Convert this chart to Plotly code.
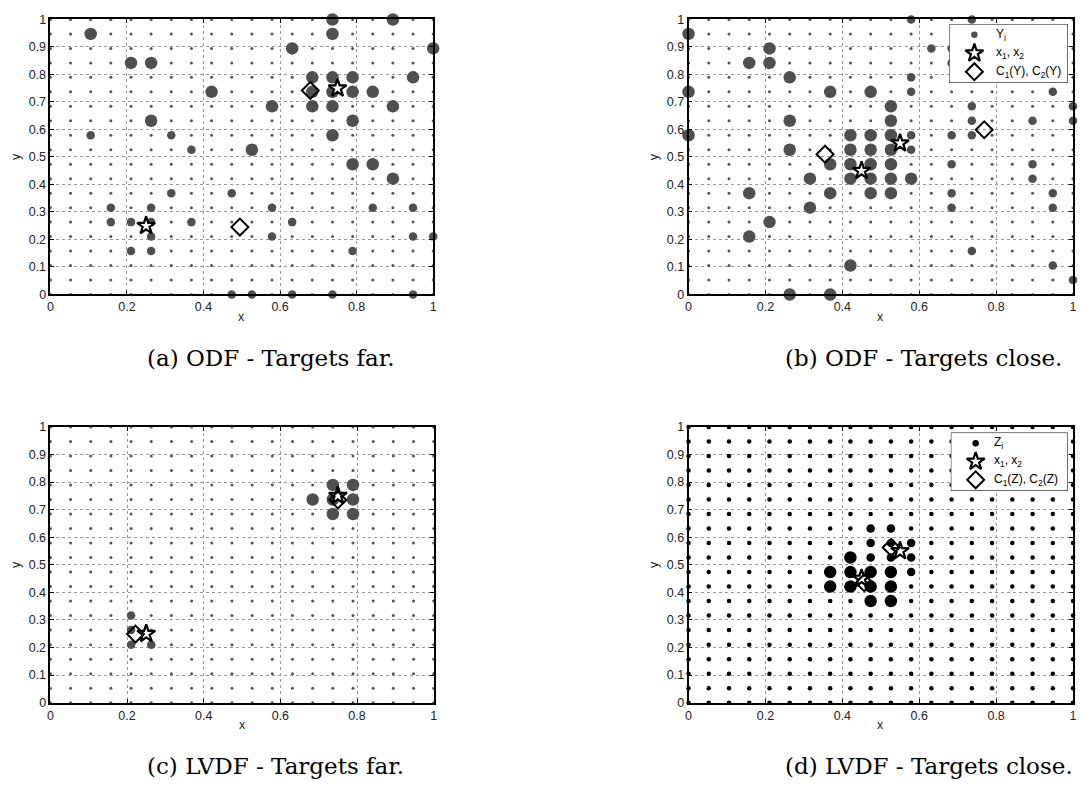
import plotly.graph_objects as go

W, H = 1081, 787
STEP = 19  # sensor grid: 20 x 20 nodes spaced 1/19 apart

# Weighted nodes as (column, row, weight); weight 2 = heavy, 1 = light
ODF_FAR = [
    (2, 18, 2), (4, 16, 2), (5, 16, 2), (8, 14, 2), (5, 12, 2), (14, 19, 2), (17, 19, 2),
    (14, 18, 2), (12, 17, 2), (19, 17, 2), (13, 15, 2), (14, 15, 2), (15, 15, 2), (18, 15, 2),
    (13, 14, 2), (14, 14, 2), (15, 14, 2), (16, 14, 2), (11, 13, 2), (13, 13, 2), (14, 13, 2),
    (17, 13, 2), (15, 12, 2), (14, 11, 2), (10, 10, 2), (15, 9, 2), (16, 9, 2), (17, 8, 2),
    (2, 11, 1), (6, 11, 1), (7, 10, 1), (9, 7, 1), (6, 7, 1), (11, 6, 1), (16, 6, 1), (18, 6, 1),
    (3, 6, 1), (5, 6, 1), (12, 5, 1), (3, 5, 1), (4, 5, 1), (5, 5, 1), (7, 5, 1), (5, 4, 1),
    (11, 4, 1), (18, 4, 1), (19, 4, 1), (4, 3, 1), (5, 3, 1), (15, 3, 1),
    (9, 0, 1), (10, 0, 1), (12, 0, 1), (14, 0, 1), (18, 0, 1),
]
ODF_CLOSE = [
    (0, 18, 2), (4, 17, 2), (3, 16, 2), (4, 16, 2), (5, 15, 2), (0, 14, 2), (7, 14, 2), (9, 14, 2),
    (10, 13, 2), (5, 12, 2), (10, 12, 2), (0, 11, 2), (8, 11, 2), (9, 11, 2), (10, 11, 2),
    (5, 10, 2), (8, 10, 2), (9, 10, 2), (10, 10, 2), (7, 9, 2), (8, 9, 2), (9, 9, 2), (10, 9, 2),
    (6, 8, 2), (8, 8, 2), (9, 8, 2), (10, 8, 2), (11, 8, 2), (3, 7, 2), (7, 7, 2), (9, 7, 2),
    (10, 7, 2), (6, 6, 2), (4, 5, 2), (3, 4, 2), (8, 2, 2), (5, 0, 2), (7, 0, 2),
    (11, 19, 1), (14, 19, 1), (12, 17, 1), (13, 17, 1), (13, 16, 1), (11, 15, 1), (11, 14, 1),
    (18, 14, 1), (14, 13, 1), (19, 13, 1), (14, 12, 1), (17, 12, 1), (19, 12, 1), (11, 11, 1),
    (13, 11, 1), (14, 11, 1), (11, 10, 1), (13, 9, 1), (17, 9, 1), (17, 8, 1), (13, 7, 1),
    (18, 7, 1), (13, 6, 1), (18, 6, 1), (14, 3, 1), (18, 2, 1), (19, 1, 1),
]
LVDF_FAR = [
    (14, 15, 2), (15, 15, 2), (13, 14, 2), (14, 14, 2), (15, 14, 2), (14, 13, 2), (15, 13, 2),
    (4, 6, 1), (4, 5, 1), (4, 4, 1), (5, 4, 1),
]
LVDF_CLOSE = [
    (8, 10, 2), (7, 9, 2), (8, 9, 2), (9, 9, 2), (10, 9, 2), (7, 8, 2), (8, 8, 2), (9, 8, 2),
    (10, 8, 2), (9, 7, 2), (10, 7, 2),
    (9, 12, 1), (10, 12, 1), (9, 11, 1), (10, 11, 1), (11, 11, 1), (9, 10, 1), (10, 10, 1),
    (11, 10, 1), (11, 9, 1),
]

# True target positions x1, x2
TARGETS_FAR = [(0.25, 0.25), (0.75, 0.75)]
TARGETS_CLOSE = [(0.45, 0.45), (0.55, 0.55)]

# Estimated cluster centres C1, C2
CENTRES_ODF_FAR = [(0.495, 0.245), (0.679, 0.742)]
CENTRES_ODF_CLOSE = [(0.355, 0.510), (0.769, 0.599)]
CENTRES_LVDF_FAR = [(0.222, 0.249), (0.750, 0.735)]
CENTRES_LVDF_CLOSE = [(0.457, 0.435), (0.527, 0.563)]

X_TICKS = [0, 0.2, 0.4, 0.6, 0.8, 1]
X_TICK_TEXT = ["0", "0.2", "0.4", "0.6", "0.8", "1"]
Y_TICKS = [0, 0.1, 0.2, 0.3, 0.4, 0.5, 0.6, 0.7, 0.8, 0.9, 1]
Y_TICK_TEXT = ["0", "0.1", "0.2", "0.3", "0.4", "0.5", "0.6", "0.7", "0.8", "0.9", "1"]

CAPTIONS = ["(a) ODF - Targets far.", "(b) ODF - Targets close.",
            "(c) LVDF - Targets far.", "(d) LVDF - Targets close."]
LEGEND_B = ["Y<sub>i</sub>", "x<sub>1</sub>, x<sub>2</sub>", "C<sub>1</sub>(Y), C<sub>2</sub>(Y)"]
LEGEND_D = ["Z<sub>i</sub>", "x<sub>1</sub>, x<sub>2</sub>", "C<sub>1</sub>(Z), C<sub>2</sub>(Z)"]

SANS = "Liberation Sans, Arial, sans-serif"
SERIF = "DejaVu Serif, Liberation Serif, serif"
GRAY = "#4f4f4f"
SIZE_BY_WEIGHT = {1: 8.5, 2: 12.5}
STAR = dict(symbol="star", size=13.5, color="white", opacity=1, line=dict(color="black", width=2.2))
DIAMOND = dict(symbol="diamond-open", size=13, color="black", opacity=1,
               line=dict(color="black", width=2))

# Panel frames in page pixels: (left, right, top, bottom)
FRAMES = [(47.7, 433.0, 12.7, 292.7), (690.0, 1077.0, 12.7, 292.7),
          (47.7, 433.5, 427.5, 708.3), (690.0, 1077.0, 427.5, 708.3)]
PANELS = [
    dict(points=ODF_FAR, targets=TARGETS_FAR, centres=CENTRES_ODF_FAR, dark=False),
    dict(points=ODF_CLOSE, targets=TARGETS_CLOSE, centres=CENTRES_ODF_CLOSE, dark=False),
    dict(points=LVDF_FAR, targets=TARGETS_FAR, centres=CENTRES_LVDF_FAR, dark=False),
    dict(points=LVDF_CLOSE, targets=TARGETS_CLOSE, centres=CENTRES_LVDF_CLOSE, dark=True),
]


def xdom(l, r):
    return [l / W, r / W]


def ydom(t, b):
    return [1 - b / H, 1 - t / H]


fig = go.Figure()
layout = dict(width=W, height=H, margin=dict(l=0, r=0, t=0, b=0),
              paper_bgcolor="white", plot_bgcolor="white", showlegend=False)
annotations = []

grid_x = [c / STEP for c in range(STEP + 1) for _ in range(STEP + 1)]
grid_y = [r / STEP for _ in range(STEP + 1) for r in range(STEP + 1)]

for k, (panel, frame) in enumerate(zip(PANELS, FRAMES)):
    n = "" if k == 0 else str(k + 1)
    xa, ya = "x" + n, "y" + n
    l, r, t, b = frame
    axis_common = dict(range=[0, 1], ticks="inside", ticklen=4, tickcolor="black",
                       showline=True, linecolor="black", linewidth=1.6, mirror="ticks",
                       showgrid=True, gridcolor="#999999", griddash="dot", gridwidth=1,
                       zeroline=False, tickfont=dict(family=SANS, size=12.5, color="#222"))
    layout["xaxis" + n] = dict(axis_common, domain=xdom(l, r), anchor=ya,
                               tickvals=X_TICKS, ticktext=X_TICK_TEXT)
    layout["yaxis" + n] = dict(axis_common, domain=ydom(t, b), anchor=xa,
                               tickvals=Y_TICKS, ticktext=Y_TICK_TEXT)

    node_color = "black" if panel["dark"] else "#555555"
    fig.add_trace(go.Scatter(x=grid_x, y=grid_y, mode="markers", xaxis=xa, yaxis=ya,
                             cliponaxis=False, hoverinfo="skip",
                             marker=dict(size=4.5 if panel["dark"] else 3, color=node_color,
                                         opacity=1)))
    pts = panel["points"]
    fig.add_trace(go.Scatter(
        x=[c / STEP for c, _, _ in pts], y=[r / STEP for _, r, _ in pts],
        mode="markers", xaxis=xa, yaxis=ya, cliponaxis=False,
        marker=dict(size=[SIZE_BY_WEIGHT[w] for _, _, w in pts], opacity=1,
                    color="black" if panel["dark"] else GRAY, line=dict(width=0))))
    fig.add_trace(go.Scatter(
        x=[p[0] for p in panel["targets"]], y=[p[1] for p in panel["targets"]],
        mode="markers", xaxis=xa, yaxis=ya, cliponaxis=False, marker=STAR))
    fig.add_trace(go.Scatter(
        x=[p[0] for p in panel["centres"]], y=[p[1] for p in panel["centres"]],
        mode="markers", xaxis=xa, yaxis=ya, cliponaxis=False, marker=DIAMOND))

    # axis titles and caption
    cx = (l + r) / 2
    annotations.append(dict(text="x", x=cx / W, y=1 - (b + 22.5) / H, xref="paper", yref="paper",
                            xanchor="center", yanchor="middle", showarrow=False,
                            font=dict(family=SANS, size=12.5, color="#222")))
    annotations.append(dict(text="y", x=(l - 34.5) / W, y=1 - ((t + b) / 2) / H, xref="paper",
                            yref="paper", xanchor="center", yanchor="middle", textangle=-90,
                            showarrow=False, font=dict(family=SANS, size=12.5, color="#222")))
    annotations.append(dict(text=CAPTIONS[k], x=(l + 95.5) / W, y=1 - (b + 64.5) / H,
                            xref="paper", yref="paper", xanchor="left", yanchor="middle",
                            showarrow=False, font=dict(family=SERIF, size=23, color="black")))

# Legend boxes drawn on their own pixel-scaled overlay axes
LEGEND_BOXES = [(5, (952.7, 1071.7, 17.3, 77.3), LEGEND_B, GRAY, 45),
                (6, (954.0, 1071.7, 433.3, 492.7), LEGEND_D, "black", 41)]
for idx, (l, r, t, b), labels, dot_color, text_x in LEGEND_BOXES:
    n = str(idx)
    bw, bh = r - l, b - t
    layout["xaxis" + n] = dict(domain=xdom(l, r), range=[0, bw], visible=False,
                               anchor="y" + n, fixedrange=True)
    layout["yaxis" + n] = dict(domain=ydom(t, b), range=[bh, 0], visible=False,
                               anchor="x" + n, fixedrange=True)
    fig.add_trace(go.Scatter(x=[0, bw, bw, 0, 0], y=[0, 0, bh, bh, 0], mode="lines",
                             fill="toself", fillcolor="white", line=dict(color="black", width=1),
                             xaxis="x" + n, yaxis="y" + n, cliponaxis=False, hoverinfo="skip"))
    rows = [bh * 0.183, bh * 0.495, bh * 0.81]
    mx = 25
    fig.add_trace(go.Scatter(x=[mx], y=[rows[0]], mode="markers", xaxis="x" + n, yaxis="y" + n,
                             marker=dict(size=6.5, color=dot_color, opacity=1)))
    fig.add_trace(go.Scatter(x=[mx], y=[rows[1]], mode="markers", xaxis="x" + n, yaxis="y" + n,
                             marker=STAR))
    fig.add_trace(go.Scatter(x=[mx], y=[rows[2]], mode="markers", xaxis="x" + n, yaxis="y" + n,
                             marker=DIAMOND))
    for lab, yy in zip(labels, rows):
        annotations.append(dict(text=lab, x=text_x, y=yy, xref="x" + n, yref="y" + n,
                                xanchor="left", yanchor="middle", showarrow=False,
                                font=dict(family=SANS, size=12, color="black")))

layout["annotations"] = annotations
fig.update_layout(**layout)
fig.write_html("out.html")
